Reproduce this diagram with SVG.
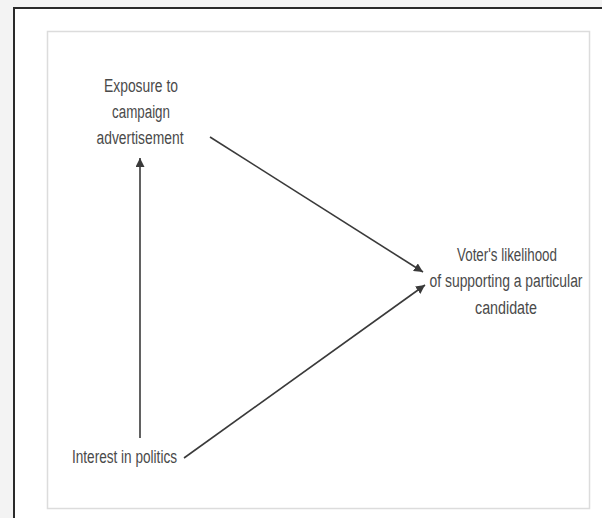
<svg xmlns="http://www.w3.org/2000/svg" width="602" height="518" viewBox="0 0 602 518">
<style>
.lbl{font-family:"Liberation Sans Narrow","Liberation Sans",Arial,sans-serif;font-size:18px;fill:#4a4a4a;text-anchor:middle}
.edge{stroke:#3a3a3a;stroke-width:1.6;fill:none}
</style>
<defs>
<marker id="ah" viewBox="0 0 10 10" refX="10" refY="5" markerWidth="9" markerHeight="9" markerUnits="userSpaceOnUse" orient="auto">
<path d="M0,0 L10,5 L0,10 z" fill="#3a3a3a"/>
</marker>
</defs>
<rect x="0" y="0" width="602" height="518" fill="#f3f3f3"/>
<rect x="14" y="8" width="600" height="520" fill="#ffffff" stroke="#2a2a2a" stroke-width="2"/>
<rect x="47.5" y="31.5" width="542" height="477" fill="#ffffff" stroke="#dcdcdc" stroke-width="1.5"/>
<g id="connectors">
<line class="edge" x1="140" y1="438" x2="140" y2="158" marker-end="url(#ah)"/>
<line class="edge" x1="210" y1="137" x2="423" y2="272" marker-end="url(#ah)"/>
<line class="edge" x1="184" y1="458" x2="425" y2="285" marker-end="url(#ah)"/>
</g>
<g id="node-exposure">
<text class="lbl" x="141" y="92" textLength="74" lengthAdjust="spacingAndGlyphs">Exposure to</text>
<text class="lbl" x="141" y="118" textLength="58" lengthAdjust="spacingAndGlyphs">campaign</text>
<text class="lbl" x="140" y="144" textLength="87" lengthAdjust="spacingAndGlyphs">advertisement</text>
</g>
<g id="node-interest">
<text class="lbl" x="124.5" y="463" textLength="105" lengthAdjust="spacingAndGlyphs">Interest in politics</text>
</g>
<g id="node-voter">
<text class="lbl" x="507" y="261" textLength="100" lengthAdjust="spacingAndGlyphs">Voter's likelihood</text>
<text class="lbl" x="506" y="287" textLength="153" lengthAdjust="spacingAndGlyphs">of supporting a particular</text>
<text class="lbl" x="506" y="314" textLength="62" lengthAdjust="spacingAndGlyphs">candidate</text>
</g>
</svg>
